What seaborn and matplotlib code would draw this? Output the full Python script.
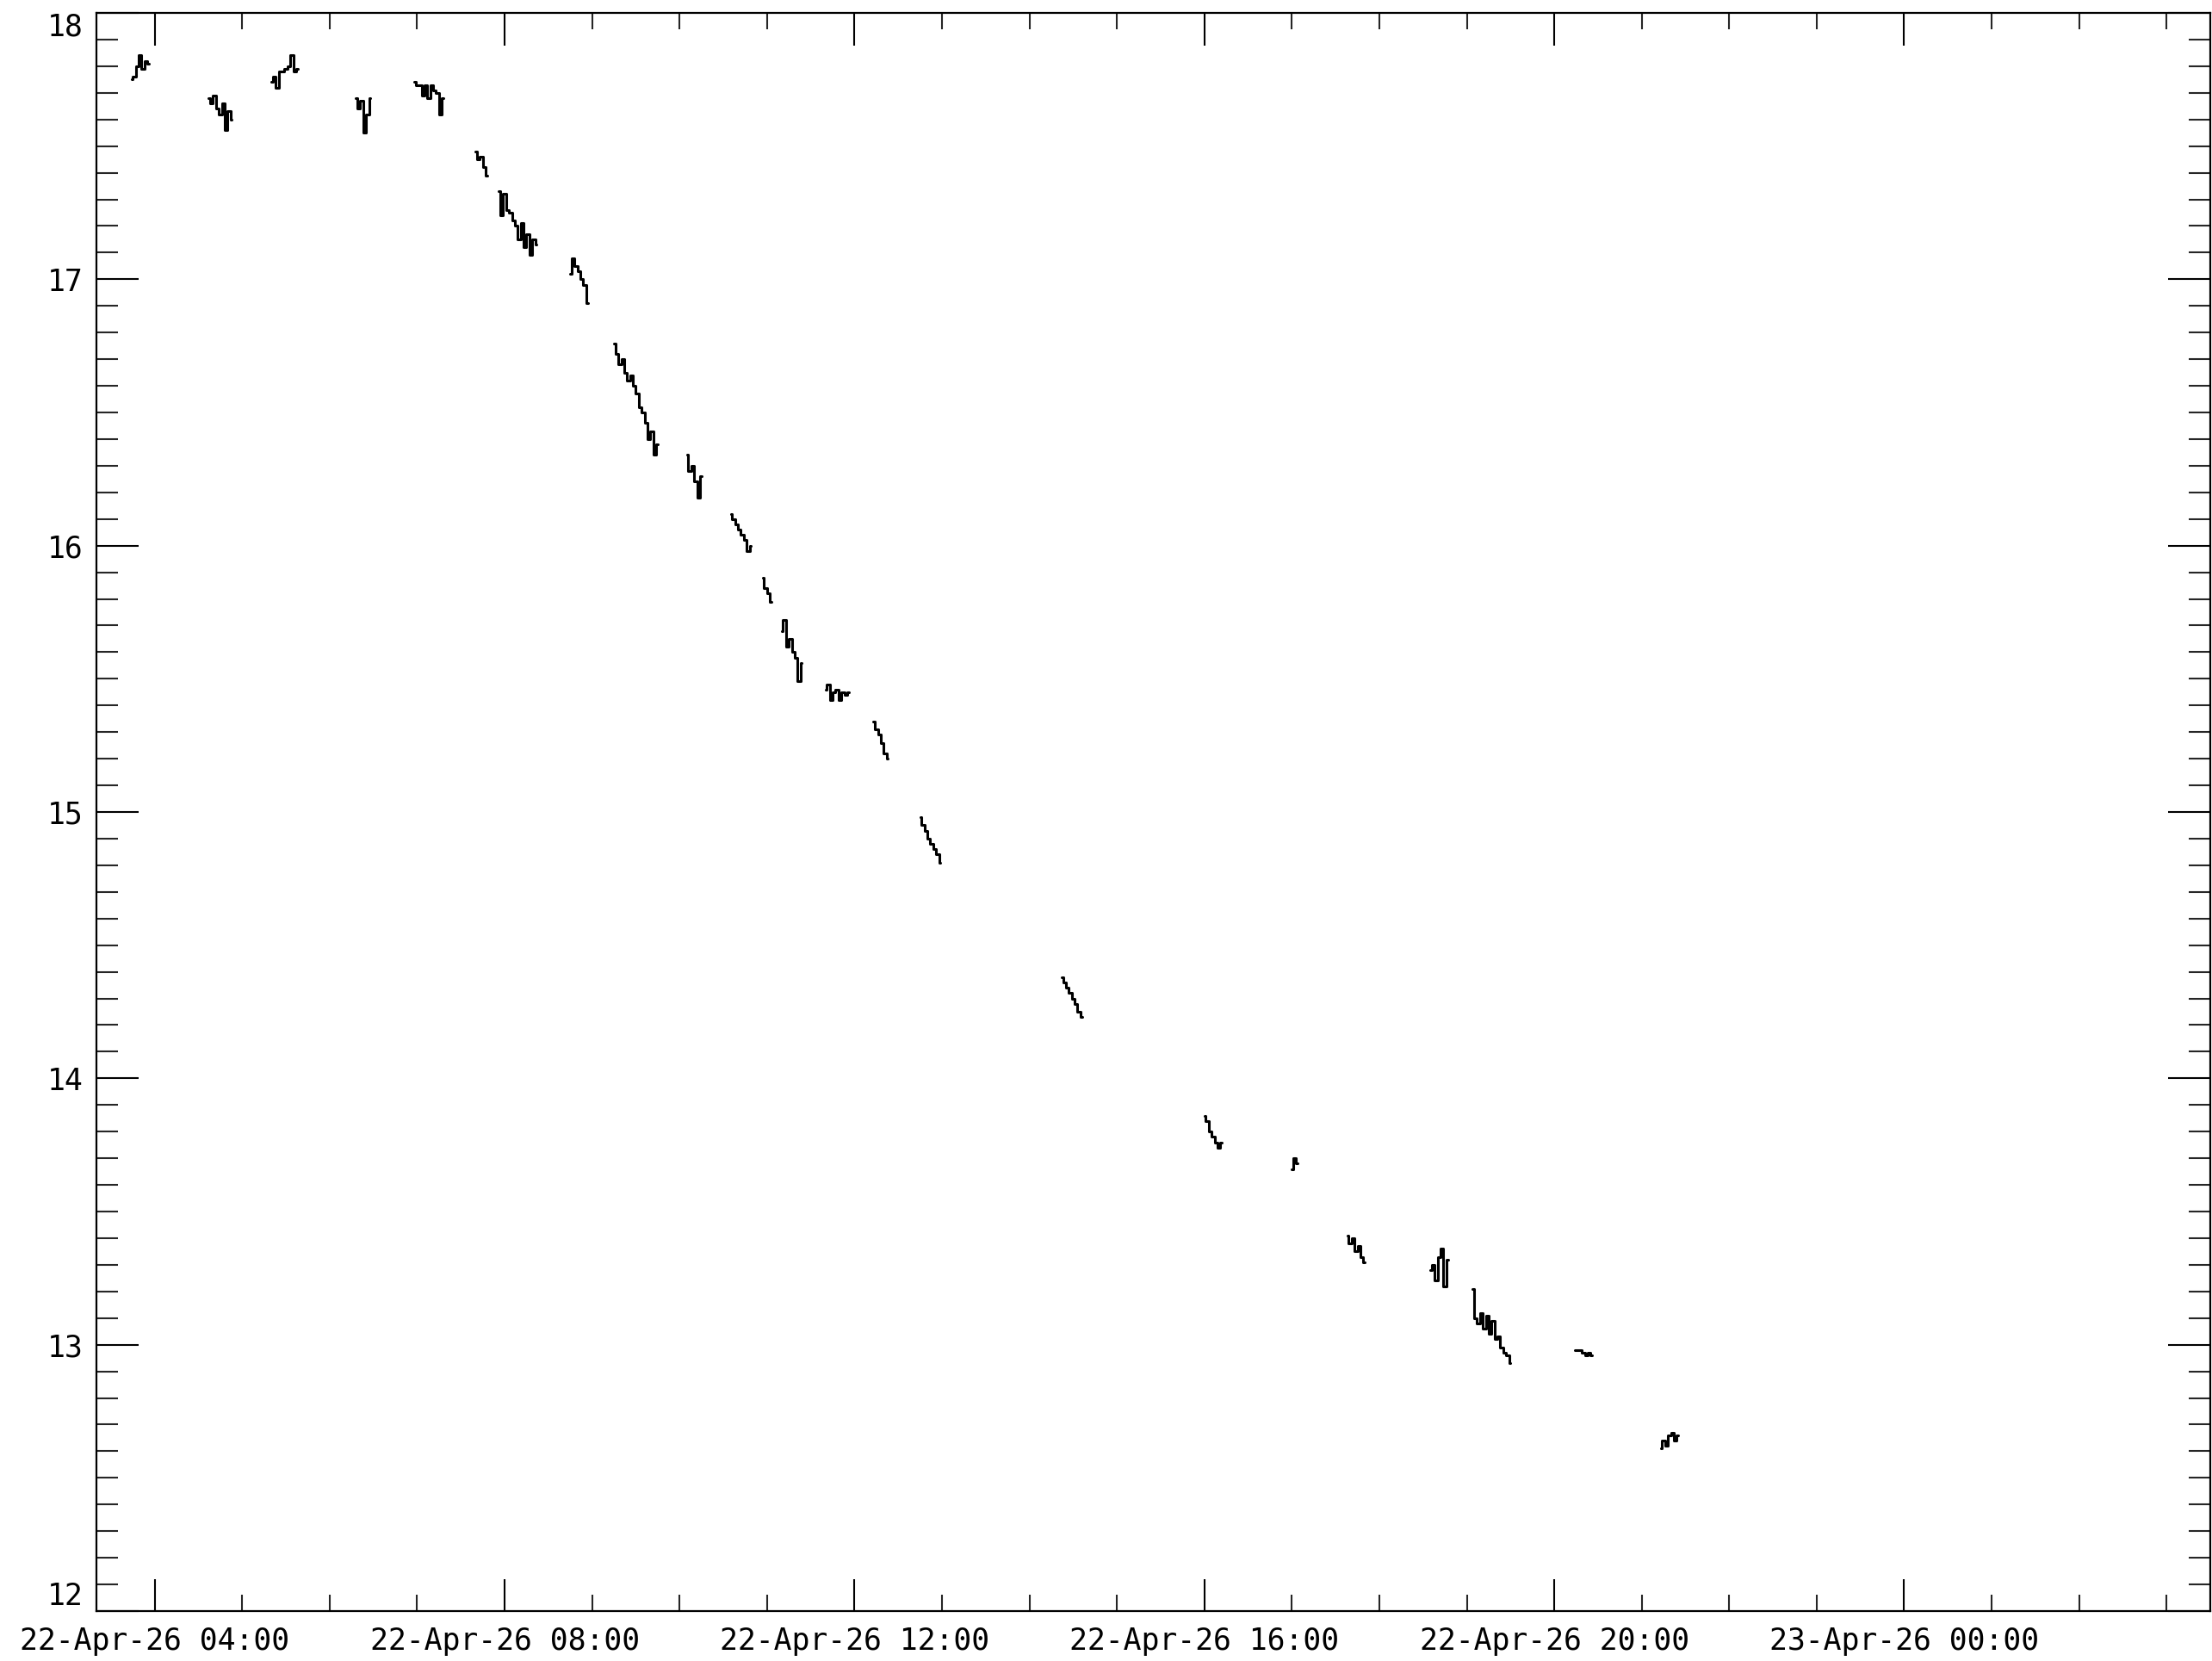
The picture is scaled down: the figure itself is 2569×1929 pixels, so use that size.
import numpy as np
import pandas as pd
import matplotlib
matplotlib.use("Agg")
import matplotlib.pyplot as plt
import matplotlib.dates as mdates
import seaborn as sns
from matplotlib.ticker import MultipleLocator

# start time of each observing block (22-Apr-26) and its values, one sample every 2 min
block_start = ["03:44", "04:37", "05:20", "06:18", "06:58", "07:40", "07:56", "08:45",
               "09:15", "10:05", "10:35", "10:57", "11:10", "11:40", "12:13", "12:45",
               "14:22", "16:00", "17:00", "17:38", "18:35", "19:04", "20:14", "21:13"]
cadence_min = 2

b01 = [17.75, 17.76, 17.80, 17.84, 17.79, 17.82, 17.81]
b02 = [17.68, 17.66, 17.69, 17.64, 17.62, 17.66, 17.56, 17.63, 17.60]
b03 = [17.74, 17.76, 17.72, 17.78, 17.78, 17.79, 17.80, 17.84, 17.78, 17.79]
b04 = [17.68, 17.64, 17.67, 17.55, 17.62, 17.68]
b05 = [17.74, 17.73, 17.73, 17.69, 17.73, 17.68, 17.73, 17.71, 17.70, 17.62, 17.68]
b06 = [17.48, 17.45, 17.46, 17.42, 17.39]
b07 = [17.33, 17.24, 17.32, 17.26, 17.25, 17.22, 17.20, 17.15, 17.21, 17.12, 17.17, 17.09, 17.15, 17.13]
b08 = [17.02, 17.08, 17.05, 17.03, 17.00, 16.98, 16.91]
b09 = [16.76, 16.72, 16.68, 16.70, 16.65, 16.62, 16.64, 16.60, 16.57, 16.52, 16.50, 16.46,
       16.40, 16.43, 16.34, 16.38]
b10 = [16.34, 16.28, 16.30, 16.24, 16.18, 16.26]
b11 = [16.12, 16.10, 16.08, 16.06, 16.04, 16.02, 15.98, 16.00]
b12 = [15.88, 15.84, 15.82, 15.79]
b13 = [15.68, 15.72, 15.62, 15.65, 15.60, 15.58, 15.49, 15.56]
b14 = [15.46, 15.48, 15.42, 15.45, 15.46, 15.42, 15.45, 15.44, 15.45]
b15 = [15.34, 15.31, 15.29, 15.26, 15.22, 15.20]
b16 = [14.98, 14.95, 14.93, 14.90, 14.88, 14.86, 14.84, 14.81]
b17 = [14.38, 14.36, 14.34, 14.32, 14.30, 14.28, 14.25, 14.23]
b18 = [13.86, 13.84, 13.80, 13.78, 13.76, 13.74, 13.76]
b19 = [13.66, 13.70, 13.68]
b20 = [13.41, 13.38, 13.40, 13.35, 13.37, 13.33, 13.31]
b21 = [13.28, 13.30, 13.24, 13.33, 13.36, 13.22, 13.32]
b22 = [13.21, 13.10, 13.08, 13.12, 13.06, 13.11, 13.04, 13.09, 13.02, 13.03, 12.99, 12.97,
       12.96, 12.93]
b23 = [12.98, 12.98, 12.98, 12.97, 12.96, 12.97, 12.96]
b24 = [12.61, 12.64, 12.62, 12.66, 12.67, 12.64, 12.66]
blocks = [b01, b02, b03, b04, b05, b06, b07, b08, b09, b10, b11, b12,
          b13, b14, b15, b16, b17, b18, b19, b20, b21, b22, b23, b24]

y_ticks = [12, 13, 14, 15, 16, 17, 18]

# build long table
rows = []
for i, (st, vals) in enumerate(zip(block_start, blocks)):
    t0 = pd.Timestamp("2026-04-22 " + st)
    for k, v in enumerate(vals):
        rows.append({"time": t0 + pd.Timedelta(minutes=cadence_min * k), "value": v, "block": i})
df = pd.DataFrame(rows)

sns.set_style("ticks")
plt.rcParams["font.family"] = ["DejaVu Sans Mono", "DejaVu Sans"]

W, H = 2569, 1929
fig = plt.figure(figsize=(W / 100, H / 100), dpi=100)
ax = fig.add_axes([112 / W, 1 - 1871 / H, (2567 - 112) / W, (1871 - 15) / H])

sns.lineplot(data=df, x="time", y="value", units="block", estimator=None,
             color="black", lw=2.2, drawstyle="steps-mid", ax=ax)

ax.set_xlim(pd.Timestamp("2026-04-22 03:20"), pd.Timestamp("2026-04-23 03:30"))
ax.set_ylim(12, 18)
ax.set_xlabel("")
ax.set_ylabel("")

ax.xaxis.set_major_locator(mdates.HourLocator(byhour=[0, 4, 8, 12, 16, 20]))
ax.xaxis.set_minor_locator(mdates.HourLocator())
ax.xaxis.set_major_formatter(mdates.DateFormatter("%d-%b-%y %H:%M"))
ax.set_yticks(y_ticks)
ax.set_yticklabels([str(v) for v in y_ticks])
ax.yaxis.set_minor_locator(MultipleLocator(0.1))

for s in ax.spines.values():
    s.set_visible(True)
    s.set_linewidth(1.6)
    s.set_color("black")

ax.tick_params(axis="x", which="major", direction="in", length=27, width=1.5,
               top=True, bottom=True, labelsize=25, pad=13, colors="black")
ax.tick_params(axis="x", which="minor", direction="in", length=14, width=1.5,
               top=True, bottom=True)
ax.tick_params(axis="y", which="major", direction="in", length=35, width=1.5,
               left=True, right=True, labelsize=25, pad=11, colors="black")
ax.tick_params(axis="y", which="minor", direction="in", length=18, width=1.5,
               left=True, right=True)

yt = ax.yaxis.get_major_ticks()
yt[-1].label1.set_verticalalignment("top")
yt[0].label1.set_verticalalignment("bottom")

fig.savefig("out.png", dpi=100)
